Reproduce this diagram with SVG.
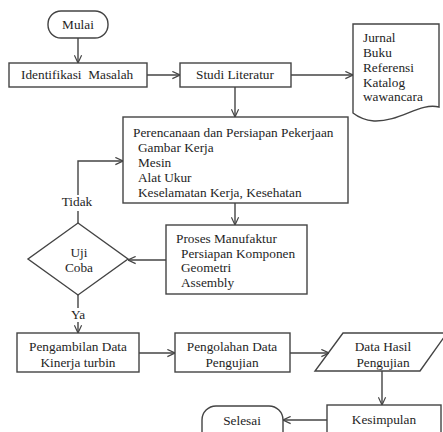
<svg xmlns="http://www.w3.org/2000/svg" width="443" height="432" viewBox="0 0 443 432">
<defs>
<marker id="ah" viewBox="0 0 10 10" refX="9.5" refY="5" markerWidth="9" markerHeight="9" markerUnits="userSpaceOnUse" orient="auto">
<path d="M1,1 L9.5,5 L1,9" fill="none" stroke="#444" stroke-width="1.3"/>
</marker>
</defs>
<style>
.shape{fill:#fff;stroke:#444;stroke-width:1.4}
.conn path{fill:none;stroke:#444;stroke-width:1.4}
.t text{font-size:13.3px;fill:#1e1e1e}
.c{text-anchor:middle}
</style>
<rect width="443" height="432" fill="#fff"/>
<g class="t" font-family="'Liberation Serif', 'Times New Roman', serif">
<g id="mulai"><rect class="shape" x="48" y="11" width="60" height="27" rx="13"/><text class="c" x="78" y="29">Mulai</text></g>
<g id="identifikasi"><rect class="shape" x="9" y="63" width="138" height="24"/><text x="21" y="79">Identifikasi&#160; Masalah</text></g>
<g id="studi"><rect class="shape" x="180" y="63" width="111" height="24"/><text class="c" x="235" y="79">Studi Literatur</text></g>
<g id="dokumen"><path class="shape" d="M353,24 H439 V107 C420,102 400,122 374,121 C364,120 358,117 353,113 Z"/>
<text x="363" y="42">Jurnal</text><text x="363" y="57">Buku</text><text x="363" y="72">Referensi</text><text x="363" y="87">Katalog</text><text x="363" y="101">wawancara</text></g>
<g id="perencanaan"><rect class="shape" x="123" y="117" width="225" height="86"/>
<text x="133" y="137">Perencanaan dan Persiapan Pekerjaan</text><text x="138" y="152">Gambar Kerja</text><text x="138" y="167">Mesin</text><text x="138" y="182">Alat Ukur</text><text x="138" y="197">Keselamatan Kerja, Kesehatan</text></g>
<g id="proses"><rect class="shape" x="166" y="225" width="141" height="69"/>
<text x="176" y="243">Proses Manufaktur</text><text x="181" y="258">Persiapan Komponen</text><text x="181" y="272">Geometri</text><text x="181" y="287">Assembly</text></g>
<g id="ujicoba"><path class="shape" d="M78,223 L128,259 L78,295 L28,259 Z"/><text class="c" x="79" y="257">Uji</text><text class="c" x="79" y="272">Coba</text></g>
<g id="pengambilan"><rect class="shape" x="17" y="333" width="122" height="39"/><text class="c" x="78" y="351">Pengambilan Data</text><text class="c" x="78" y="367">Kinerja turbin</text></g>
<g id="pengolahan"><rect class="shape" x="175" y="333" width="115" height="39"/><text class="c" x="232" y="351">Pengolahan Data</text><text class="c" x="232" y="367">Pengujian</text></g>
<g id="datahasil"><path class="shape" d="M343,333 L447,333 L420,371 L315,371 Z"/><text class="c" x="383" y="351">Data Hasil</text><text class="c" x="383" y="367">Pengujian</text></g>
<g id="kesimpulan"><rect class="shape" x="327" y="405" width="114" height="40"/><text class="c" x="384" y="424">Kesimpulan</text></g>
<g id="selesai"><rect class="shape" x="202" y="406" width="81" height="40" rx="14"/><text class="c" x="242" y="425">Selesai</text></g>
<g id="labels"><text class="c" x="77" y="206">Tidak</text><text class="c" x="78" y="319">Ya</text></g>
</g>
<g class="conn" id="connectors">
<path d="M78,38 V63" marker-end="url(#ah)"/>
<path d="M147,75 H180" marker-end="url(#ah)"/>
<path d="M291,75 H353" marker-end="url(#ah)"/>
<path d="M235,87 V117" marker-end="url(#ah)"/>
<path d="M235,203 V225" marker-end="url(#ah)"/>
<path d="M166,260 H128" marker-end="url(#ah)"/>
<path d="M78,223 V211"/>
<path d="M78,195 V161 H123" marker-end="url(#ah)"/>
<path d="M78,295 V308"/>
<path d="M78,322 V333" marker-end="url(#ah)"/>
<path d="M139,353 H175" marker-end="url(#ah)"/>
<path d="M290,353 H329" marker-end="url(#ah)"/>
<path d="M382,371 V405" marker-end="url(#ah)"/>
<path d="M327,420 H283" marker-end="url(#ah)"/>
</g>
</svg>
